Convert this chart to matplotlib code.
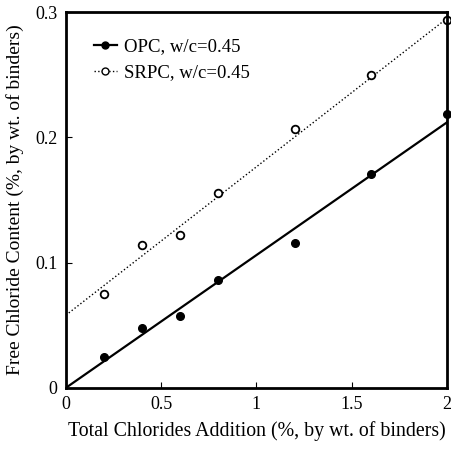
import numpy as np
import matplotlib
matplotlib.use('Agg')
import matplotlib.pyplot as plt

plt.rcParams['font.family'] = ['Liberation Serif', 'DejaVu Serif']

# total chlorides added (% by wt. of binders)
x_opc = [0.2, 0.4, 0.6, 0.8, 1.2, 1.6, 2.0]
y_opc = [0.025, 0.048, 0.057, 0.086, 0.116, 0.171, 0.219]
x_srpc = [0.2, 0.4, 0.6, 0.8, 1.2, 1.6, 2.0]
y_srpc = [0.075, 0.114, 0.122, 0.156, 0.207, 0.250, 0.294]

# fitted lines: slope, intercept
opc_fit = [0.106, 0.0]
srpc_fit = [0.1185, 0.058]

fig = plt.figure(figsize=(4.51, 4.51), dpi=100)
ax = fig.add_axes([0.146, 0.140, 0.845, 0.833])

xl = np.array([0, 2])
ax.plot(xl, np.polyval(opc_fit, xl), 'k-', lw=1.6)
ax.plot(xl, np.polyval(srpc_fit, xl), 'k:', lw=1.0)
ax.plot(x_opc, y_opc, 'ko', ms=5.5, clip_on=False)
ax.plot(x_srpc, y_srpc, 'o', mfc='white', mec='k', mew=1.3, ms=5.5, clip_on=False)

# legend handles
h1, = ax.plot([], [], 'k-', marker='o', ms=5, lw=1.6)
h2, = ax.plot([], [], 'k:', marker='o', mfc='white', mec='k', ms=5, lw=1.0)
ax.legend([h1, h2], ['OPC, w/c=0.45', 'SRPC, w/c=0.45'], loc='upper left',
          frameon=False, fontsize=13.5, handlelength=1.2, handletextpad=0.4,
          bbox_to_anchor=(0.03, 0.975), labelspacing=0.45)

ax.set_xlim(0, 2)
ax.set_ylim(0, 0.3)
ax.set_xticks([0, 0.5, 1, 1.5, 2])
ax.set_xticklabels(['0', '0.5', '1', '1.5', '2'])
ax.set_yticks([0, 0.1, 0.2, 0.3])
ax.set_yticklabels(['0', '0.1', '0.2', '0.3'])
ax.tick_params(direction='in', length=4, labelsize=13, pad=6)
for s in ax.spines.values():
    s.set_linewidth(2)

ax.set_xlabel('Total Chlorides Addition (%, by wt. of binders)', fontsize=14.3, labelpad=6)
ax.set_ylabel('Free Chloride Content (%, by wt. of binders)', fontsize=14, labelpad=8)

fig.savefig('out.png', dpi=100)
